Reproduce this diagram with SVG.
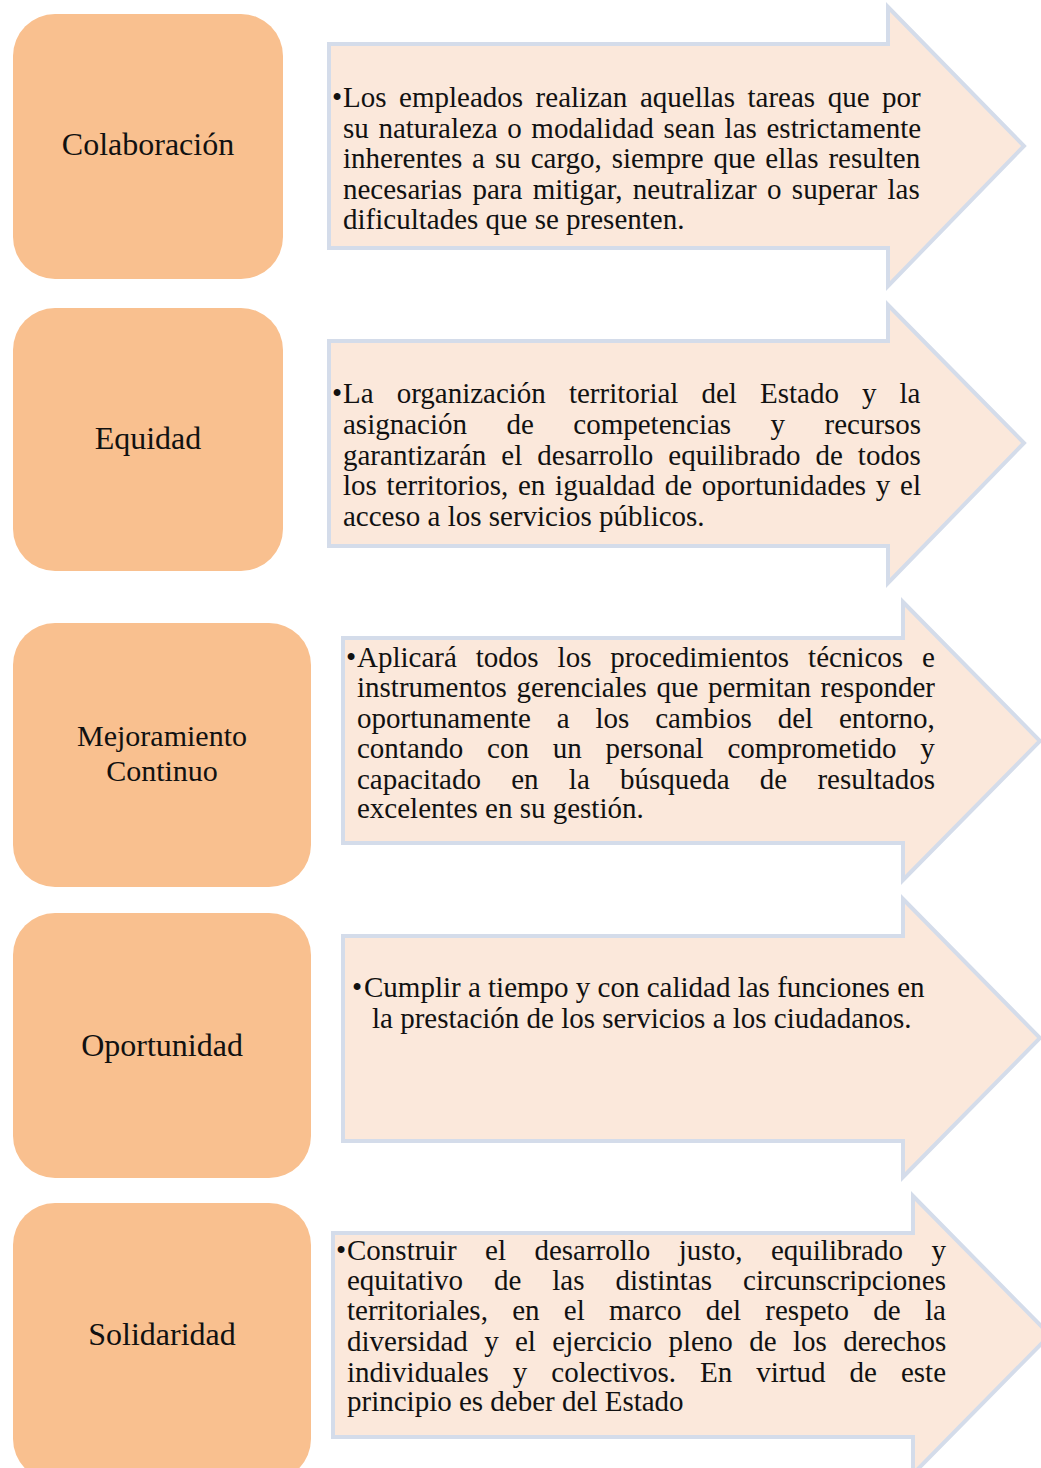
<svg xmlns="http://www.w3.org/2000/svg" width="1041" height="1468" viewBox="0 0 1041 1468">
<style>
.box{fill:#F9C08F;}
.arr{fill:#FBE8DB;stroke:#D4DCEA;stroke-width:4;stroke-linejoin:miter;}
.lbl{font-family:"Liberation Serif","Times New Roman",serif;font-size:32px;fill:#111;text-anchor:middle;}
.lbl2{font-size:30px;}
.t{font-family:"Liberation Serif","Times New Roman",serif;font-size:29px;fill:#111;}
</style>
<rect width="1041" height="1468" fill="#fff"/>

<g id="box-colaboracion">
<rect class="box" x="13" y="14" width="270" height="265" rx="42"/>
<text class="lbl" x="148" y="155">Colaboración</text>
</g>
<g id="arrow-colaboracion">
<polygon class="arr" points="329,44 888,44 888,7 1024,146 888,286 888,248 329,248"/>
<text class="t" x="332" y="107">•</text>
<text class="t" x="343" y="107" word-spacing="5.3">Los empleados realizan aquellas tareas que por</text>
<text class="t" x="343" y="137.5" word-spacing="2.4">su naturaleza o modalidad sean las estrictamente</text>
<text class="t" x="343" y="168" word-spacing="2.7">inherentes a su cargo, siempre que ellas resulten</text>
<text class="t" x="343" y="198.5" word-spacing="3.05">necesarias para mitigar, neutralizar o superar las</text>
<text class="t" x="343" y="229">dificultades que se presenten.</text>
</g>

<g id="box-equidad">
<rect class="box" x="13" y="308" width="270" height="263" rx="42"/>
<text class="lbl" x="148" y="449">Equidad</text>
</g>
<g id="arrow-equidad">
<polygon class="arr" points="329,341 888,341 888,305 1024,443 888,583 888,546 329,546"/>
<text class="t" x="332" y="403">•</text>
<text class="t" x="343" y="403" word-spacing="15.8">La organización territorial del Estado y la</text>
<text class="t" x="343" y="434" word-spacing="32.2">asignación de competencias y recursos</text>
<text class="t" x="343" y="464.5" word-spacing="7.8">garantizarán el desarrollo equilibrado de todos</text>
<text class="t" x="343" y="495" word-spacing="2.5">los territorios, en igualdad de oportunidades y el</text>
<text class="t" x="343" y="525.5">acceso a los servicios públicos.</text>
</g>

<g id="box-mejoramiento">
<rect class="box" x="13" y="623" width="298" height="264" rx="42"/>
<text class="lbl lbl2" x="162" y="746">Mejoramiento</text>
<text class="lbl lbl2" x="162" y="781">Continuo</text>
</g>
<g id="arrow-mejoramiento">
<polygon class="arr" points="343,638 903,638 903,602 1040,741 903,880 903,843 343,843"/>
<text class="t" x="346" y="667">•</text>
<text class="t" x="357" y="667" word-spacing="11.7">Aplicará todos los procedimientos técnicos e</text>
<text class="t" x="357" y="697" word-spacing="2.35">instrumentos gerenciales que permitan responder</text>
<text class="t" x="357" y="728" word-spacing="18.6">oportunamente a los cambios del entorno,</text>
<text class="t" x="357" y="758" word-spacing="16.5">contando con un personal comprometido y</text>
<text class="t" x="357" y="789" word-spacing="23">capacitado en la búsqueda de resultados</text>
<text class="t" x="357" y="818">excelentes en su gestión.</text>
</g>

<g id="box-oportunidad">
<rect class="box" x="13" y="913" width="298" height="265" rx="42"/>
<text class="lbl" x="162" y="1056">Oportunidad</text>
</g>
<g id="arrow-oportunidad">
<polygon class="arr" points="343,936 903,936 903,899 1040,1038 903,1177 903,1141 343,1141"/>
<text class="t" x="352" y="997">•</text>
<text class="t" x="364" y="997">Cumplir a tiempo y con calidad las funciones en</text>
<text class="t" x="372" y="1028">la prestación de los servicios a los ciudadanos.</text>
</g>

<g id="box-solidaridad">
<rect class="box" x="13" y="1203" width="298" height="278" rx="42"/>
<text class="lbl" x="162" y="1345">Solidaridad</text>
</g>
<g id="arrow-solidaridad">
<polygon class="arr" points="333,1233 913,1233 913,1196 1050,1335 913,1474 913,1437 333,1437"/>
<text class="t" x="336" y="1260">•</text>
<text class="t" x="347" y="1260" word-spacing="21.2">Construir el desarrollo justo, equilibrado y</text>
<text class="t" x="347" y="1290" word-spacing="23.7">equitativo de las distintas circunscripciones</text>
<text class="t" x="347" y="1320" word-spacing="17">territoriales, en el marco del respeto de la</text>
<text class="t" x="347" y="1351" word-spacing="9.1">diversidad y el ejercicio pleno de los derechos</text>
<text class="t" x="347" y="1382" word-spacing="16.75">individuales y colectivos. En virtud de este</text>
<text class="t" x="347" y="1411">principio es deber del Estado</text>
</g>
</svg>
